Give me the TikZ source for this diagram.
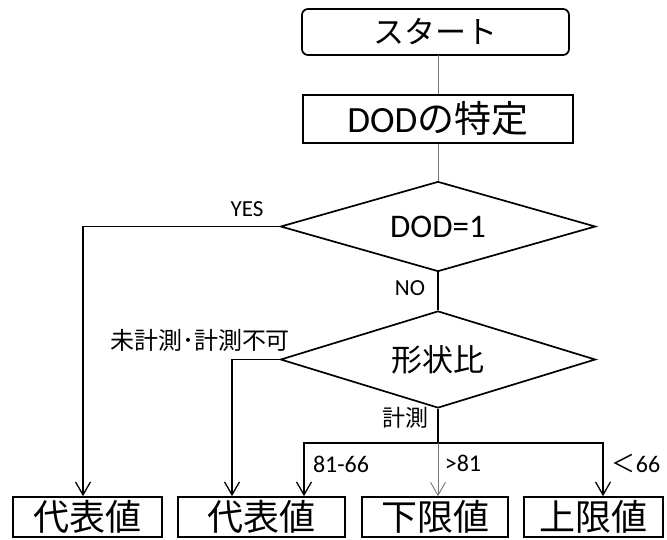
\documentclass[tikz,border=0pt]{standalone}
\usepackage{fontspec}
\setmainfont{Carlito}
\newfontfamily\jp{Noto Sans CJK JP}
\usetikzlibrary{arrows.meta,shapes.geometric}
\begin{document}
\begin{tikzpicture}[x=1pt,y=-1pt,
  box/.style={draw,line width=1.7pt,inner sep=0pt,anchor=center},
  dia/.style={draw,diamond,shape aspect=3.5,line width=1.7pt,inner sep=0pt,minimum width=315pt,minimum height=90pt},
  conn/.style={line width=1.3pt},
  thin/.style={line width=0.9pt,draw=black!55},
  arr/.style={-{Straight Barb[length=13pt,width=15pt]}},
  lbl/.style={inner sep=0pt,font=\fontsize{23}{23}\selectfont},
  big/.style={font=\fontsize{36}{36}\selectfont}
]
\useasboundingbox (0,0) rectangle (667,539);
% top
\node[box,rounded corners=6pt,minimum width=267pt,minimum height=46pt,font=\fontsize{31}{31}\selectfont] (start) at (435.5,32) {\jp スタート};
\node[box,minimum width=270pt,minimum height=48pt,font=\fontsize{37}{37}\selectfont] (dod) at (438,119) {DOD{\jp の特定}};
\node[dia,font=\fontsize{33}{33}\selectfont] (d1) at (438,226.5) {DOD=1};
\node[dia,minimum height=97pt,font=\fontsize{31}{31}\selectfont] (d2) at (438,359.5) {\jp 形状比};
% bottom boxes
\node[box,big,minimum width=149pt,minimum height=40pt] (b1) at (87.5,517) {\jp 代表値};
\node[box,big,minimum width=167pt,minimum height=40pt] (b2) at (261.5,517) {\jp 代表値};
\node[box,big,minimum width=146pt,minimum height=40pt] (b3) at (435,517) {\jp 下限値};
\node[box,big,minimum width=139pt,minimum height=40pt] (b4) at (593.5,517) {\jp 上限値};
% connectors
\draw[thin] (start) -- (start.south -| dod.north) -- (dod.north);
\draw[thin] (dod.south) -- (d1.north);
\draw[conn] (d1.south) -- (d2.north);
\coordinate (yc) at (83,226.5);
\draw[conn,arr] (d1.west) -- (yc) -- (yc |- b1.north);
\coordinate (mc) at (232,359.5);
\draw[conn,arr] (d2.west) -- (mc) -- (mc |- b2.north);
\coordinate (split) at (438,443);
\coordinate (lc) at (304,443);
\coordinate (rc) at (603,443);
\draw[conn] (d2.south) -- (split);
\draw[conn,arr] (lc) -- (rc) -- (rc |- b4.north);
\draw[conn,arr] (split) -- (lc) -- (lc |- b2.north);
\draw[thin,arr] (split) -- (split |- b3.north);
% labels
\node[lbl] (lyes) at (247,209) {YES};
\node[lbl] (lno) at (410,288) {NO};
\node[lbl,font=\fontsize{24}{24}\selectfont\jp] (lun) at (200,340) {未計測･計測不可};
\node[lbl,font=\fontsize{23}{23}\selectfont\jp] (lkei) at (405,418) {計測};
\node[lbl,font=\fontsize{24}{24}\selectfont] (l1) at (341,464) {81-66};
\node[lbl,font=\fontsize{24}{24}\selectfont] (l2) at (463,463) {>81};
\node[lbl,font=\fontsize{24}{24}\selectfont] (l3) at (636,463) {{\jp ＜}66};
\end{tikzpicture}
\end{document}
